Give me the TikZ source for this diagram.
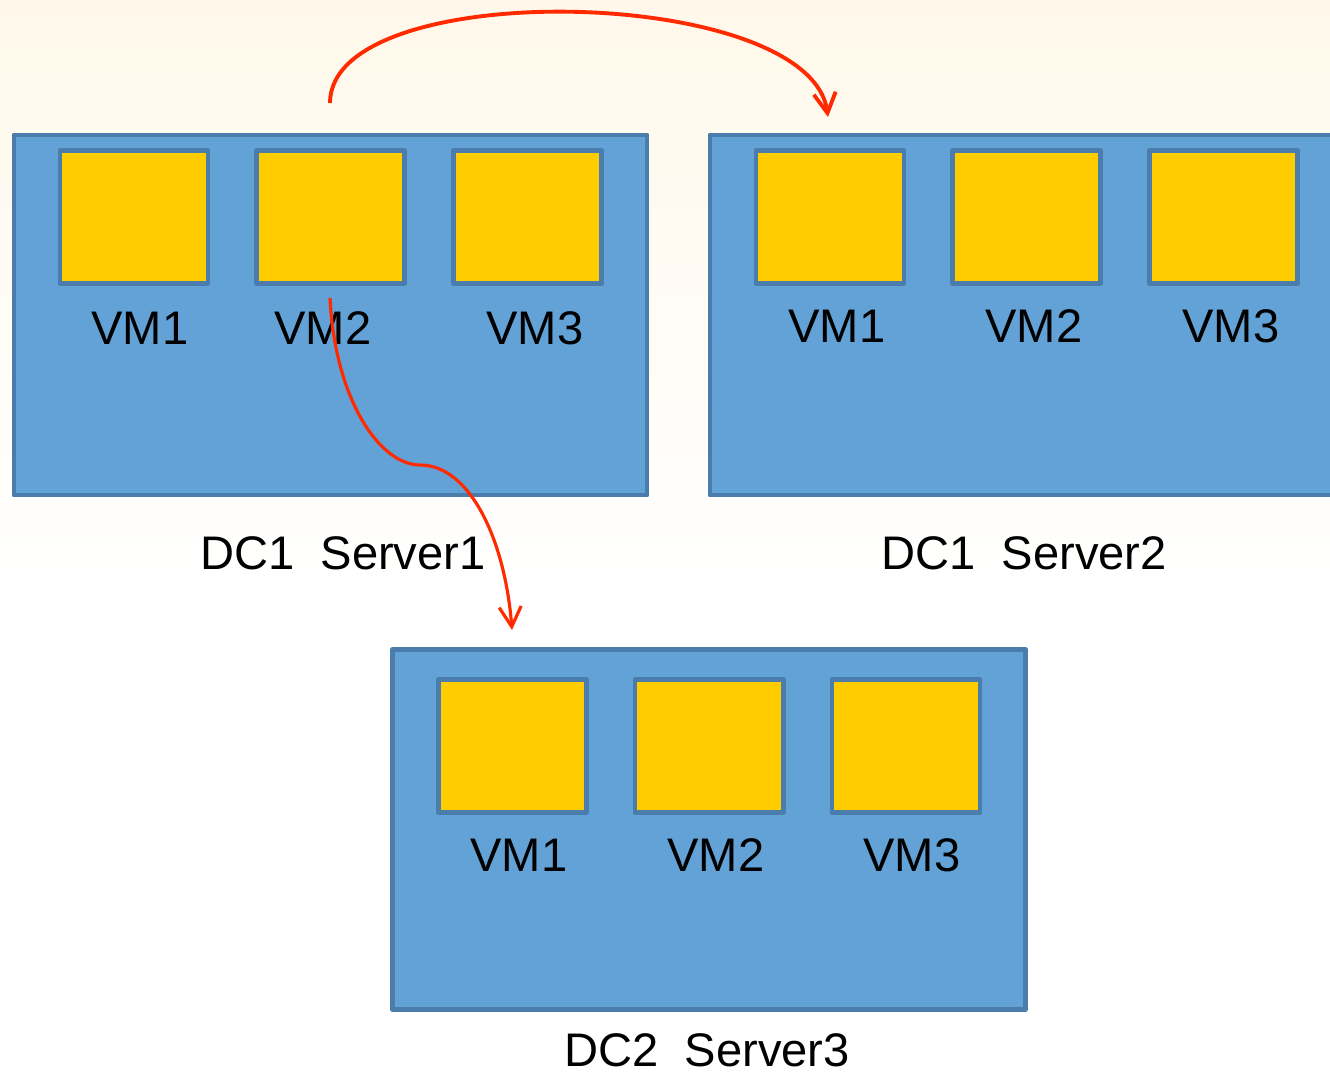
\documentclass[tikz,border=0pt]{standalone}
\usepackage{fontspec}
\setmainfont{Liberation Sans}
\usetikzlibrary{arrows.meta, positioning, calc}

\definecolor{srvblue}{HTML}{63A2D6}
\definecolor{srvedge}{HTML}{4A7DAB}
\definecolor{vmyellow}{HTML}{FFCC00}
\definecolor{migred}{HTML}{FF2A00}
\definecolor{cream}{HTML}{FFF8EA}

\begin{document}
\begin{tikzpicture}[
    x=0.01cm, y=-0.01cm,
    node distance=0.44cm,
    server/.style={rectangle, minimum width=6.33cm, minimum height=3.6cm, draw=srvedge, fill=srvblue, line width=1.3pt, line join=round, inner sep=0pt},
    vm/.style={rectangle, minimum width=1.48cm, minimum height=1.33cm, draw=srvedge, fill=vmyellow, line width=1.3pt, line join=round, inner sep=0pt},
    lbl/.style={anchor=base, inner sep=0pt, font=\fontsize{13.4}{16}\selectfont},
    mig/.style={draw=migred, line width=1.1pt, -{Straight Barb[length=0.2cm, width=0.22cm]}}
]
\useasboundingbox (0,0) rectangle (1330,1072);
\clip (0,0) rectangle (1330,1072);
\shade [top color=cream, bottom color=white] (0,0) rectangle (1330,580);

\node (srv1) [server] at (330.5,315) {};
\node (srv2) [server] at (1026.5,315) {};
\node (srv3) [server] at (709,829.5) {};

\node (s1vm1) [vm] at (134,217) {};
\node (s1vm2) [vm, right=of s1vm1] {};
\node (s1vm3) [vm, right=of s1vm2] {};
\node (s2vm1) [vm] at (830,217) {};
\node (s2vm2) [vm, right=of s2vm1] {};
\node (s2vm3) [vm, right=of s2vm2] {};
\node (s3vm1) [vm] at (512.5,746) {};
\node (s3vm2) [vm, right=of s3vm1] {};
\node (s3vm3) [vm, right=of s3vm2] {};

\node (s1l1) [lbl] at (140,344) {VM1};
\node (s1l2) [lbl] at (323,344) {VM2};
\node (s1l3) [lbl] at (535,344) {VM3};
\node (s2l1) [lbl] at (837,342) {VM1};
\node (s2l2) [lbl] at (1034,342) {VM2};
\node (s2l3) [lbl] at (1231,342) {VM3};
\node (s3l1) [lbl] at (519,871) {VM1};
\node (s3l2) [lbl] at (716,871) {VM2};
\node (s3l3) [lbl] at (912,871) {VM3};

\node (name1) [lbl] at (343,569) {DC1~~Server1};
\node (name2) [lbl] at (1024,569) {DC1~~Server2};
\node (name3) [lbl] at (707,1066) {DC2~~Server3};

\coordinate (hopA) at (330,103);
\coordinate (hopB) at (330,298);
\coordinate (land2) at (828,117);
\coordinate (land3) at (512,630);

\draw [mig] (hopA) .. controls (330,-25) and (810,-15) .. (land2);
\draw [mig, line width=0.9pt] (hopB) .. controls (335,400) and (380,465) .. (420,465)
    .. controls (470,465) and (505,540) .. (land3);

\end{tikzpicture}
\end{document}
